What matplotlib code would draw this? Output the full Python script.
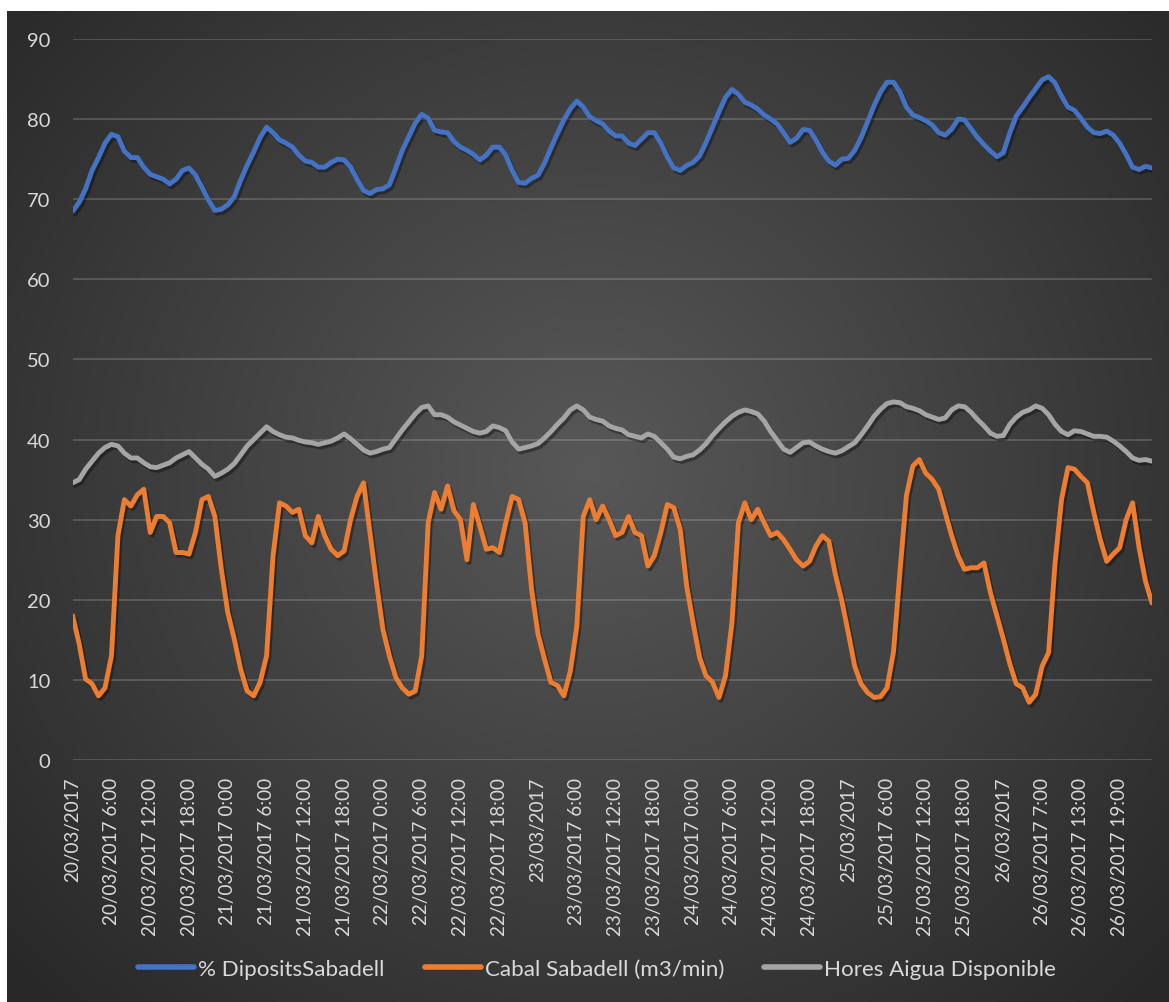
import numpy as np
import matplotlib
matplotlib.use("Agg")
import matplotlib.pyplot as plt
import matplotlib.patheffects as pe

plt.rcParams['font.family'] = ['Lato', 'DejaVu Sans']

# ---------------- data (hourly samples, 20/03/2017 0:00 -> 26/03/2017 23:00) ----------------
hours = list(range(168))

tick_labels = [
    "20/03/2017", "20/03/2017 6:00", "20/03/2017 12:00", "20/03/2017 18:00",
    "21/03/2017 0:00", "21/03/2017 6:00", "21/03/2017 12:00", "21/03/2017 18:00",
    "22/03/2017 0:00", "22/03/2017 6:00", "22/03/2017 12:00", "22/03/2017 18:00",
    "23/03/2017", "23/03/2017 6:00", "23/03/2017 12:00", "23/03/2017 18:00",
    "24/03/2017 0:00", "24/03/2017 6:00", "24/03/2017 12:00", "24/03/2017 18:00",
    "25/03/2017", "25/03/2017 6:00", "25/03/2017 12:00", "25/03/2017 18:00",
    "26/03/2017", "26/03/2017 7:00", "26/03/2017 13:00", "26/03/2017 19:00",
]
tick_positions = list(range(0, 163, 6))

diposits = [
    68.5, 69.6, 71.3, 73.6, 75.2, 77.0, 78.1, 77.8, 76.0, 75.2, 75.2, 74.0,
    73.1, 72.8, 72.5, 71.9, 72.5, 73.6, 73.9, 73.0, 71.5, 69.9, 68.6, 68.75,
    69.3, 70.3, 72.4, 74.25, 75.9, 77.7, 79.0, 78.3, 77.4, 77.0, 76.5, 75.5,
    74.75, 74.6, 74.0, 74.0, 74.6, 75.0, 74.9, 74.0, 72.5, 71.1, 70.7, 71.2,
    71.3, 71.8, 73.9, 76.1, 77.8, 79.5, 80.6, 80.1, 78.6, 78.4, 78.3, 77.2,
    76.5, 76.1, 75.6, 74.9, 75.5, 76.5, 76.5, 75.5, 73.6, 72.1, 72.0, 72.6,
    73.0, 74.5, 76.4, 78.2, 79.9, 81.3, 82.25, 81.5, 80.3, 79.8, 79.4, 78.5,
    77.9, 77.9, 77.0, 76.7, 77.5, 78.3, 78.3, 77.0, 75.3, 73.9, 73.6, 74.2,
    74.6, 75.4, 77.1, 79.0, 80.9, 82.7, 83.7, 83.1, 82.1, 81.75, 81.25, 80.5,
    80.0, 79.4, 78.3, 77.1, 77.6, 78.7, 78.6, 77.4, 75.9, 74.75, 74.25, 75.0,
    75.1, 76.1, 77.7, 79.7, 81.7, 83.4, 84.6, 84.6, 83.4, 81.5, 80.5, 80.2,
    79.8, 79.25, 78.3, 78.0, 78.75, 80.0, 79.9, 78.8, 77.7, 76.8, 76.0, 75.3,
    75.8, 78.3, 80.4, 81.5, 82.7, 83.8, 84.9, 85.3, 84.5, 82.9, 81.5, 81.1,
    80.1, 79.0, 78.3, 78.2, 78.5, 78.0, 77.0, 75.6, 74.0, 73.7, 74.1, 73.9,
]

cabal = [
    18.0, 14.5, 10.1, 9.5, 8.0, 9.0, 13.0, 28.0, 32.5, 31.7, 33.1, 33.8,
    28.4, 30.4, 30.4, 29.6, 25.9, 25.9, 25.7, 28.4, 32.5, 32.9, 30.4, 23.8,
    18.4, 15.1, 11.3, 8.6, 8.0, 9.7, 13.0, 25.5, 32.1, 31.7, 30.9, 31.3,
    28.0, 27.1, 30.4, 28.0, 26.3, 25.5, 26.1, 30.0, 32.9, 34.6, 28.4, 22.1,
    16.3, 13.0, 10.3, 9.0, 8.2, 8.6, 13.0, 29.6, 33.4, 31.3, 34.2, 31.1,
    30.0, 25.0, 31.9, 29.2, 26.3, 26.5, 25.9, 29.6, 32.9, 32.5, 29.6, 21.3,
    15.7, 12.6, 9.7, 9.3, 8.0, 11.1, 16.7, 30.4, 32.5, 30.0, 31.7, 30.0,
    28.0, 28.4, 30.4, 28.4, 28.0, 24.2, 25.5, 28.4, 31.9, 31.5, 28.8, 21.7,
    17.1, 12.8, 10.5, 9.7, 7.8, 10.5, 17.1, 29.6, 32.1, 30.0, 31.3, 29.6,
    28.0, 28.4, 27.5, 26.3, 25.0, 24.2, 24.8, 26.7, 28.0, 27.3, 23.2, 19.9,
    15.9, 11.7, 9.5, 8.4, 7.8, 7.9, 9.0, 13.5, 23.5, 33.0, 36.7, 37.5,
    35.8, 35.0, 33.8, 30.9, 28.0, 25.5, 23.8, 24.0, 24.0, 24.6, 20.9, 18.0,
    15.1, 12.0, 9.5, 9.0, 7.2, 8.2, 11.7, 13.4, 24.6, 32.5, 36.5, 36.3,
    35.4, 34.6, 30.9, 27.5, 24.8, 25.7, 26.5, 30.0, 32.1, 26.5, 22.3, 19.6,
]

hores = [
    34.6, 35.0, 36.3, 37.3, 38.3, 39.0, 39.4, 39.2, 38.3, 37.7, 37.7, 37.1,
    36.6, 36.5, 36.8, 37.1, 37.7, 38.1, 38.5, 37.7, 36.9, 36.3, 35.4, 35.8,
    36.3, 37.0, 38.1, 39.2, 40.0, 40.8, 41.6, 41.0, 40.6, 40.3, 40.2, 39.9,
    39.7, 39.6, 39.4, 39.6, 39.8, 40.2, 40.7, 40.1, 39.4, 38.7, 38.3, 38.5,
    38.8, 39.0, 40.1, 41.2, 42.2, 43.2, 44.0, 44.2, 43.1, 43.1, 42.8, 42.2,
    41.8, 41.4, 41.0, 40.8, 41.0, 41.7, 41.5, 41.1, 39.7, 38.8, 39.0, 39.2,
    39.5, 40.2, 41.0, 41.9, 42.7, 43.7, 44.2, 43.7, 42.8, 42.5, 42.3, 41.7,
    41.4, 41.2, 40.6, 40.4, 40.2, 40.7, 40.4, 39.6, 38.8, 37.8, 37.6, 37.9,
    38.1, 38.7, 39.5, 40.5, 41.4, 42.2, 42.9, 43.4, 43.7, 43.5, 43.2, 42.3,
    41.0, 39.9, 38.8, 38.4, 39.0, 39.6, 39.7, 39.2, 38.8, 38.5, 38.3, 38.6,
    39.1, 39.6, 40.6, 41.7, 42.9, 43.8, 44.5, 44.7, 44.6, 44.1, 43.9, 43.6,
    43.1, 42.8, 42.5, 42.7, 43.7, 44.2, 44.1, 43.4, 42.5, 41.7, 40.8, 40.4,
    40.5, 41.9, 42.8, 43.4, 43.7, 44.2, 43.9, 43.1, 41.9, 41.0, 40.6, 41.1,
    41.0, 40.7, 40.4, 40.4, 40.3, 39.8, 39.2, 38.5, 37.7, 37.4, 37.5, 37.3,
]

series_names = ["% DipositsSabadell", "Cabal Sabadell (m3/min)", "Hores Aigua Disponible"]
series_colors = ["#4472C4", "#ED7D31", "#A5A5A5"]
y_ticks = list(range(0, 91, 10))

# ---------------- figure ----------------
W, H = 1169, 1003
fig = plt.figure(figsize=(W / 100, H / 100), dpi=100, facecolor="white")

# radial gradient background (chart area), white margin top/left
yy, xx = np.mgrid[0:H, 0:W]
cx, cy = 590.0, 470.0
r = np.sqrt(((xx - cx) / 1.0) ** 2 + ((yy - cy) / 0.95) ** 2)
t = np.clip(r / 790.0, 0, 1)
val = (88 - (88 - 40) * t) / 255.0
img = np.dstack([val, val, val, np.ones_like(val)])
img[:12, :, :3] = 1.0
img[:, :7, :3] = 1.0
fig.figimage(img, xo=0, yo=0, origin="upper", zorder=-10)

left, right = 72.7 / W, 1152.0 / W
top, bottom = 1 - 40.0 / H, 1 - 761.0 / H
ax = fig.add_axes([left, bottom, right - left, top - bottom])
ax.set_facecolor("none")
ax.patch.set_alpha(0)

txt_color = "#D9D9D9"
shadow = [pe.SimpleLineShadow(offset=(1.5, -2.0), shadow_color="black", alpha=0.35), pe.Normal()]

for data, name, col in zip([diposits, cabal, hores], series_names, series_colors):
    ax.plot(hours, data, color=col, lw=3.5, label=name, solid_joinstyle="round",
            solid_capstyle="round", path_effects=shadow, zorder=3)

ax.set_xlim(0, 167)
ax.set_ylim(0, 90)
ax.set_yticks(y_ticks)
ax.set_xticks(tick_positions)
ax.set_xticklabels(tick_labels, rotation=90, ha="center", va="top")
ax.tick_params(axis="x", length=0, colors=txt_color, labelsize=13.6, pad=12)
ax.tick_params(axis="y", length=0, colors=txt_color, labelsize=14.5, pad=16)
ax.grid(axis="y", color="white", alpha=0.17, lw=1.4, zorder=0)
ax.grid(axis="x", visible=False)
for s in ax.spines.values():
    s.set_visible(False)

handles, labels = ax.get_legend_handles_labels()
leg = fig.legend(handles, labels, loc="center", bbox_to_anchor=(597 / W, 1 - 970 / H),
                 ncol=3, frameon=False, fontsize=16.1, labelcolor=txt_color,
                 handlelength=2.5, handletextpad=0.18, columnspacing=1.8)
for l in leg.get_lines():
    l.set_linewidth(4)
    l.set_path_effects([])

fig.savefig("out.png", dpi=100, facecolor="white")
